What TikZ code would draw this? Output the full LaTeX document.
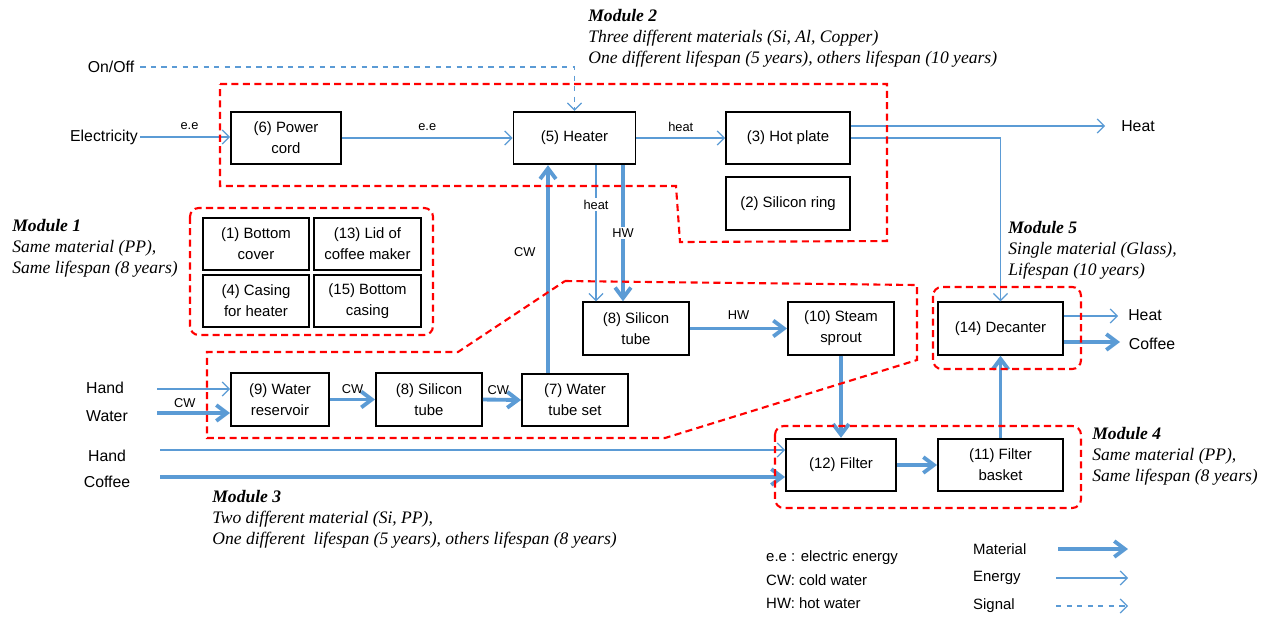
\documentclass[tikz,border=0pt]{standalone}
\usepackage{fontspec}
\setmainfont{Liberation Serif}
\setsansfont{Liberation Sans}
\usetikzlibrary{arrows.meta}
\definecolor{flow}{RGB}{91,155,213}

\begin{document}
\begin{tikzpicture}[
  x=0.02cm, y=-0.02cm,
  every node/.style={font=\sffamily\fontsize{8.5}{12}\selectfont},
  part/.style={draw, line width=1.1pt, align=center, minimum height=1.05cm, inner sep=1pt},
  term/.style={font=\sffamily\fontsize{9}{11}\selectfont},
  tag/.style={font=\sffamily\fontsize{7.3}{8}\selectfont, inner sep=1pt},
  note/.style={font=\rmfamily\itshape\fontsize{10}{12}\selectfont, align=left, anchor=north west, inner sep=0pt},
  material/.style={draw=flow, line width=2.2pt, -{Straight Barb[length=6pt,width=9pt]}},
  energy/.style={draw=flow, line width=0.7pt, -{Straight Barb[length=4pt,width=8pt]}},
  signal/.style={energy, dashed},
  module/.style={draw=red, line width=1.2pt, dash pattern=on 4pt off 2.5pt}]

\useasboundingbox (0,0) rectangle (1270,620);

% parts
\node[part, minimum width=2.2cm]  (cord)     at (286,138)    {(6) Power\\cord};
\node[part, minimum width=2.44cm] (heater)   at (574.5,138)  {(5) Heater};
\node[part, minimum width=2.48cm] (hotplate) at (788,138)    {(3) Hot plate};
\node[part, minimum width=2.48cm] (ring)     at (788,203.5)  {(2) Silicon ring};

\node[part, minimum width=2.12cm] (bottom)  at (256,244)   {(1) Bottom\\cover};
\node[part, minimum width=2.14cm] (lid)     at (367.5,244) {(13) Lid of\\coffee maker};
\node[part, minimum width=2.12cm] (casing)  at (256,301)   {(4) Casing\\for heater};
\node[part, minimum width=2.14cm] (bcasing) at (367.5,301) {(15) Bottom\\casing};

\node[part, minimum width=1.96cm] (res)      at (280,399.5)  {(9) Water\\reservoir};
\node[part, minimum width=2.12cm] (tubeA)    at (429,399.5)  {(8) Silicon\\tube};
\node[part, minimum width=2.12cm] (tubeset)  at (575,400)    {(7) Water\\tube set};
\node[part, minimum width=2.12cm] (tubeB)    at (636,328.5)  {(8) Silicon\\tube};
\node[part, minimum width=2.12cm] (sprout)   at (841,328.5)  {(10) Steam\\sprout};
\node[part, minimum width=2.5cm]  (decanter) at (1000.5,328.5) {(14) Decanter};
\node[part, minimum width=2.2cm]  (filter)   at (841,465)    {(12) Filter};
\node[part, minimum width=2.5cm]  (basket)   at (1000.5,465) {(11) Filter\\basket};

% inputs and outputs
\node[term] (onoff)   at (111,67)   {On/Off};
\node[term] (elec)    at (104,137)  {Electricity};
\node[term] (hand1)   at (105,388)  {Hand};
\node[term] (water)   at (107,416)  {Water};
\node[term] (hand2)   at (107,456)  {Hand};
\node[term] (coffee)  at (107,482)  {Coffee};
\node[term] (heatA)   at (1138,126) {Heat};
\node[term] (heatB)   at (1145,315) {Heat};
\node[term] (coffeeB) at (1152,344) {Coffee};

\coordinate (inElec)   at (140,137);
\coordinate (inHandA)  at (157,389);
\coordinate (inWater)  at (157,413);
\coordinate (inHandB)  at (160,450);
\coordinate (inCoffee) at (160,477);
\coordinate (outHeatA) at (1105,126);
\coordinate (outHeatB) at (1118,316);
\coordinate (outCoffee) at (1120,342);

% flows
\draw[signal] (onoff.east) -| (heater.north);
\draw[energy] (inElec) -- (cord.west |- inElec) node[tag, pos=0.55, above=3pt] (ee1) {e.e};
\draw[energy] (cord.east) -- (heater.west) node[tag, midway, above=3pt] (ee2) {e.e};
\draw[energy] (heater.east) -- (hotplate.west) node[tag, midway, above=2pt] (heat1) {heat};
\draw[energy] (hotplate.east |- outHeatA) -- (outHeatA);
\draw[energy] (hotplate.east) -| (decanter.north);
\draw[energy] ([xshift=0.43cm]heater.south) -- ([xshift=0.43cm]heater.south |- tubeB.north)
  node[tag, pos=0.29, fill=white] (heat2) {heat};
\draw[material] ([xshift=0.97cm]heater.south) -- ([xshift=0.97cm]heater.south |- tubeB.north)
  node[tag, pos=0.5, fill=white] (hw1) {HW};
\draw[material] ([xshift=-0.53cm]heater.south |- tubeset.north) -- ([xshift=-0.53cm]heater.south)
  node[tag, pos=0.58, left=5pt] (cw1) {CW};

\draw[energy] (inHandA) -- (res.west |- inHandA);
\draw[material] (inWater) -- (res.west |- inWater) node[tag, pos=0.38, above=1pt] (cw2) {CW};
\draw[material] (res.east) -- (tubeA.west) node[tag, midway, above=1pt] (cw3) {CW};
\draw[material] (tubeA.east) -- (tubeset.west) node[tag, pos=0.4, above=1pt] (cw4) {CW};
\draw[material] (tubeB.east) -- (sprout.west) node[tag, midway, above=3pt] (hw2) {HW};
\draw[material] (sprout.south) -- (filter.north);

\draw[energy] (inHandB) -- (filter.west |- inHandB);
\draw[material] (inCoffee) -- (filter.west |- inCoffee);
\draw[material] (filter.east) -- (basket.west);
\draw[material] (basket.north) -- (decanter.south);
\draw[energy] (decanter.east |- outHeatB) -- (outHeatB);
\draw[material] (decanter.east |- outCoffee) -- (outCoffee);

% modules
\draw[module] (220,84) -- (887,84) -- (887,241) -- (680,242) -- (676,186) -- (220,186) -- cycle;
\draw[module, rounded corners=5pt] (190,208) rectangle (433,335);
\draw[module] (565,281) -- (917,285) -- (917,360) -- (665,438) -- (207,438) -- (207,352) -- (458,352) -- cycle;
\draw[module, rounded corners=5pt] (775,426) rectangle (1081,508);
\draw[module, rounded corners=5pt] (933,287) rectangle (1081,369);

\node[note] (mod1) at (12,219) {\textbf{Module 1}\\Same material (PP),\\Same lifespan (8 years)};
\node[note] (mod2) at (588,9) {\textbf{Module 2}\\Three different materials (Si, Al,\ Copper)\\One different lifespan (5 years), others lifespan (10 years)};
\node[note] (mod3) at (212,490) {\textbf{Module 3}\\Two different material (Si, PP),\\One different\ \ lifespan (5 years), others lifespan (8 years)};
\node[note] (mod4) at (1092,427) {\textbf{Module 4}\\Same material (PP),\\Same lifespan (8 years)};
\node[note] (mod5) at (1008,221) {\textbf{Module 5}\\Single material (Glass),\\Lifespan (10 years)};

% legend
\node[anchor=west] (keyee) at (760,558) {e.e : electric energy};
\node[anchor=west] (keycw) at (760,580) {CW: cold water};
\node[anchor=west] (keyhw) at (760,603) {HW: hot water};
\node[anchor=west] (keymat) at (967,549) {Material};
\node[anchor=west] (keyen)  at (967,578) {Energy};
\node[anchor=west] (keysig) at (967,606) {Signal};
\coordinate (mat0) at (1058,549); \coordinate (mat1) at (1128,549);
\coordinate (en0)  at (1056,578); \coordinate (en1)  at (1128,578);
\coordinate (sig0) at (1056,606); \coordinate (sig1) at (1128,606);
\draw[material] (mat0) -- (mat1);
\draw[energy] (en0) -- (en1);
\draw[signal] (sig0) -- (sig1);
\end{tikzpicture}
\end{document}
